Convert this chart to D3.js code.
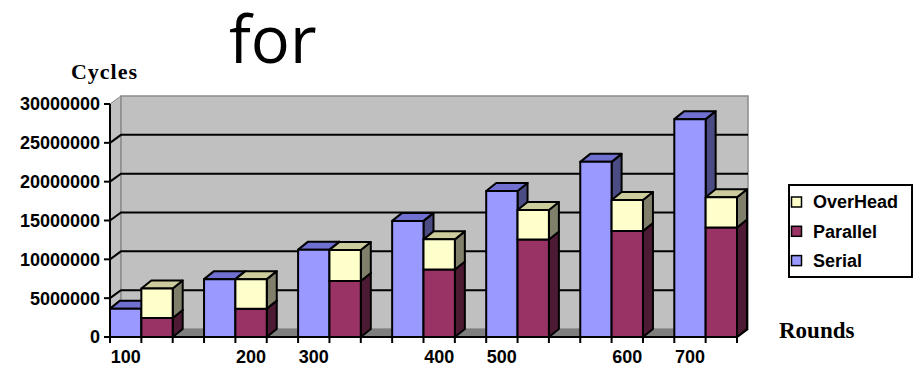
<!DOCTYPE html>
<html><head><meta charset="utf-8">
<script src="https://cdn.jsdelivr.net/npm/d3@7"></script>
<style>body{margin:0;background:#fff;}svg{display:block;}</style>
</head><body>
<svg id="c" width="916" height="368"></svg>
<script>
const categories = ["100","200","300","400","500","600","700"];
const serial   = [3650000, 7450000, 11250000, 14950000, 18800000, 22550000, 28050000];
const parallel = [2450000, 3650000, 7200000, 8700000, 12550000, 13650000, 14100000];
const overhead = [3800000, 3800000, 4000000, 3870000, 3800000, 4000000, 3900000];
const yTicks = [0, 5000000, 10000000, 15000000, 20000000, 25000000, 30000000];
const legendItems = ["OverHead", "Parallel", "Serial"];

const colors = {
  Serial:   {front:"#9999ff", top:"#7070d0", side:"#4c4c84"},
  Parallel: {front:"#993366", top:"#7a2952", side:"#4d1a33"},
  OverHead: {front:"#ffffcc", top:"#cccc9c", side:"#80806a"}
};

(function () {
const svg = d3.select("#c");
const pLeft = 110, pRight = 737, pBottom = 337, pTop = 104;
const slot = (pRight - pLeft) / 20;
const wdx = 11, wdy = -8;     // wall depth
const bdx = 10, bdy = -8;     // bar depth

const y = d3.scaleLinear().domain([0, 30000000]).range([pBottom, pTop]);
const x = d3.scaleBand().domain(categories).range([pLeft, pLeft + 21 * slot]).padding(0);
const sub = d3.scaleBand().domain(["s", "p", "gap"]).range([0, x.bandwidth()]);

const poly = pts => pts.map(p => p.join(",")).join(" ");

// title fragment
svg.append("text").attr("x", 229).attr("y", 63)
  .attr("font-family", "Open Sans, Noto Sans, sans-serif").attr("font-size", 65)
  .attr("fill", "#000").text("for");

// walls
const y0 = y(0), yT = y(30000000);
svg.append("polygon").attr("points", poly([[pLeft, y0],[pLeft, yT],[pLeft+wdx, yT+wdy],[pLeft+wdx, y0+wdy]]))
  .attr("fill", "#c0c0c0").attr("stroke", "#8a8a8a").attr("stroke-width", 1);
svg.append("polygon").attr("points", poly([[pLeft+wdx, yT+wdy],[pRight+wdx, yT+wdy],[pRight+wdx, y0+wdy],[pLeft+wdx, y0+wdy]]))
  .attr("fill", "#c0c0c0").attr("stroke", "#8a8a8a").attr("stroke-width", 1.5);
// floor
svg.append("polygon").attr("points", poly([[pLeft, y0],[pRight, y0],[pRight+wdx, y0+wdy],[pLeft+wdx, y0+wdy]]))
  .attr("fill", "#7f7f7f");

// gridlines
svg.append("g").selectAll("polyline").data(yTicks.filter(t => t > 0 && t < 30000000)).join("polyline")
  .attr("points", t => poly([[pLeft, y(t)],[pLeft+wdx, y(t)+wdy],[pRight+wdx, y(t)+wdy]]))
  .attr("fill", "none").attr("stroke", "#000").attr("stroke-width", 2);

// bars
function bar(x0, v0, v1, c) {
  const x1 = x0 + sub.bandwidth();
  const ya = y(v0), yb = y(v1);
  const g = svg.append("g").attr("stroke", "#000").attr("stroke-width", 2).attr("stroke-linejoin", "round");
  g.append("polygon").attr("points", poly([[x1, ya],[x1+bdx, ya+bdy],[x1+bdx, yb+bdy],[x1, yb]])).attr("fill", c.side);
  g.append("polygon").attr("points", poly([[x0, yb],[x1, yb],[x1+bdx, yb+bdy],[x0+bdx, yb+bdy]])).attr("fill", c.top);
  g.append("rect").attr("x", x0).attr("y", yb).attr("width", x1 - x0).attr("height", ya - yb).attr("fill", c.front);
}
categories.forEach((cat, i) => {
  const xs = x(cat) + sub("s"), xp = x(cat) + sub("p");
  bar(xs, 0, serial[i], colors.Serial);
  bar(xp, 0, parallel[i], colors.Parallel);
  bar(xp, parallel[i], parallel[i] + overhead[i], colors.OverHead);
});

// axes
svg.append("line").attr("x1", pLeft).attr("x2", pLeft).attr("y1", yT).attr("y2", y0)
  .attr("stroke", "#000").attr("stroke-width", 2);
svg.append("polyline").attr("points", poly([[pLeft, y0],[pRight, y0],[pRight+wdx, y0+wdy]]))
  .attr("fill", "none").attr("stroke", "#000").attr("stroke-width", 2);
const yt = svg.append("g");
yt.selectAll("line").data(yTicks).join("line")
  .attr("x1", pLeft - 6).attr("x2", pLeft).attr("y1", d => y(d)).attr("y2", d => y(d))
  .attr("stroke", "#000").attr("stroke-width", 2);
yt.selectAll("text").data(yTicks).join("text")
  .attr("x", 100).attr("y", d => y(d)).attr("dy", "0.36em").attr("text-anchor", "end")
  .attr("font-family", "Liberation Sans, Arial, sans-serif").attr("font-weight", "bold").attr("font-size", 18)
  .text(d => d);
// x ticks at every sub-slot boundary
const xTickPos = d3.range(21).map(k => pLeft + k * slot);
svg.append("g").selectAll("line").data(xTickPos).join("line")
  .attr("x1", d => d).attr("x2", d => d).attr("y1", y0).attr("y2", y0 + 6)
  .attr("stroke", "#000").attr("stroke-width", 2);
svg.append("g").selectAll("text").data(categories).join("text")
  .attr("x", (d, i) => x(d) + sub(i % 2 === 0 ? "s" : "p") + sub.bandwidth() / 2)
  .attr("y", 363).attr("text-anchor", "middle")
  .attr("font-family", "Liberation Sans, Arial, sans-serif").attr("font-weight", "bold").attr("font-size", 18)
  .text(d => d);

// axis titles
svg.append("text").attr("x", 71).attr("y", 79)
  .attr("font-family", "Liberation Serif, Times New Roman, serif").attr("font-weight", "bold").attr("font-size", 22)
  .attr("textLength", 66).text("Cycles");
svg.append("text").attr("x", 779).attr("y", 338)
  .attr("font-family", "Liberation Serif, Times New Roman, serif").attr("font-weight", "bold").attr("font-size", 23)
  .text("Rounds");

// legend
const lg = svg.append("g");
lg.append("rect").attr("x", 789).attr("y", 185).attr("width", 123).attr("height", 92)
  .attr("fill", "#fff").attr("stroke", "#000").attr("stroke-width", 2);
legendItems.forEach((name, i) => {
  const cy = 202 + i * 29.3;
  lg.append("rect").attr("x", 791.5).attr("y", cy - 5).attr("width", 10).attr("height", 10)
    .attr("fill", colors[name].front).attr("stroke", "#000").attr("stroke-width", 1.5);
  lg.append("text").attr("x", 813).attr("y", cy).attr("dy", "0.36em")
    .attr("font-family", "Liberation Sans, Arial, sans-serif").attr("font-weight", "bold").attr("font-size", 18)
    .text(name);
});
})();
</script>
</body></html>
